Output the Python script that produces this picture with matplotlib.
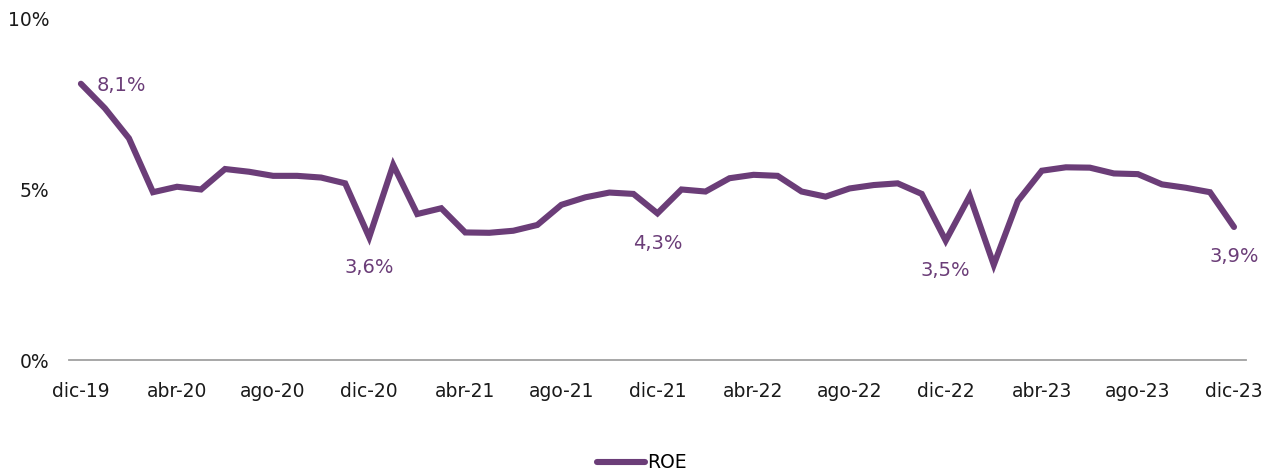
import matplotlib
matplotlib.use("Agg")
import matplotlib.pyplot as plt
import numpy as np

plt.rcParams['font.family'] = ['DejaVu Sans']

# Monthly ROE, dic-19 .. dic-23 (percent)
months = ["dic-19", "ene-20", "feb-20", "mar-20", "abr-20", "may-20", "jun-20", "jul-20",
          "ago-20", "sep-20", "oct-20", "nov-20", "dic-20", "ene-21", "feb-21", "mar-21",
          "abr-21", "may-21", "jun-21", "jul-21", "ago-21", "sep-21", "oct-21", "nov-21",
          "dic-21", "ene-22", "feb-22", "mar-22", "abr-22", "may-22", "jun-22", "jul-22",
          "ago-22", "sep-22", "oct-22", "nov-22", "dic-22", "ene-23", "feb-23", "mar-23",
          "abr-23", "may-23", "jun-23", "jul-23", "ago-23", "sep-23", "oct-23", "nov-23",
          "dic-23"]
roe = [8.1, 7.38, 6.50, 4.92, 5.08, 5.00, 5.60, 5.52, 5.40, 5.40, 5.35, 5.18, 3.6,
       5.72, 4.28, 4.45, 3.74, 3.73, 3.79, 3.96, 4.55, 4.77, 4.91, 4.87, 4.3,
       5.00, 4.94, 5.33, 5.43, 5.40, 4.94, 4.79, 5.03, 5.13, 5.18, 4.87, 3.5,
       4.81, 2.79, 4.66, 5.55, 5.65, 5.64, 5.47, 5.45, 5.15, 5.05, 4.92, 3.9]
labelled = {0: "8,1%", 12: "3,6%", 24: "4,3%", 36: "3,5%", 48: "3,9%"}
yticks = [0, 5, 10]
ytick_labels = ["0%", "5%", "10%"]

purple = "#6b3d78"

fig = plt.figure(figsize=(12.76, 4.74), dpi=100)
ax = fig.add_axes([0.054, 0.2405, 0.9225, 0.7195])

x = np.arange(len(months))
ax.plot(x, roe, color=purple, lw=4.4, solid_capstyle='round', solid_joinstyle='miter',
        label="ROE")

ax.set_xlim(-0.5, len(months) - 0.5)
ax.set_ylim(0, 10)
ax.set_yticks(yticks)
ax.set_yticklabels(ytick_labels)
ax.set_xticks(x[::4])
ax.set_xticklabels(months[::4])
ax.tick_params(axis='both', length=0, labelsize=13.5, colors='#1a1a1a')
ax.tick_params(axis='x', pad=16)
ax.tick_params(axis='y', pad=14)

for s in ['top', 'right', 'left']:
    ax.spines[s].set_visible(False)
ax.spines['bottom'].set_color('#a0a0a0')
ax.spines['bottom'].set_linewidth(1.3)

for i, txt in labelled.items():
    if i == 0:
        ax.annotate(txt, (x[i], roe[i]), xytext=(11, -1), textcoords='offset points',
                    ha='left', va='center', color=purple, fontsize=14)
    else:
        ax.annotate(txt, (x[i], roe[i]), xytext=(0, -21.5), textcoords='offset points',
                    ha='center', va='center', color=purple, fontsize=14)

fig.legend(loc='center', bbox_to_anchor=(0.503, 1 - 463 / 474), frameon=False,
           fontsize=13.5, handlelength=2.6, handletextpad=0.1)

fig.savefig("out.png", dpi=100)
